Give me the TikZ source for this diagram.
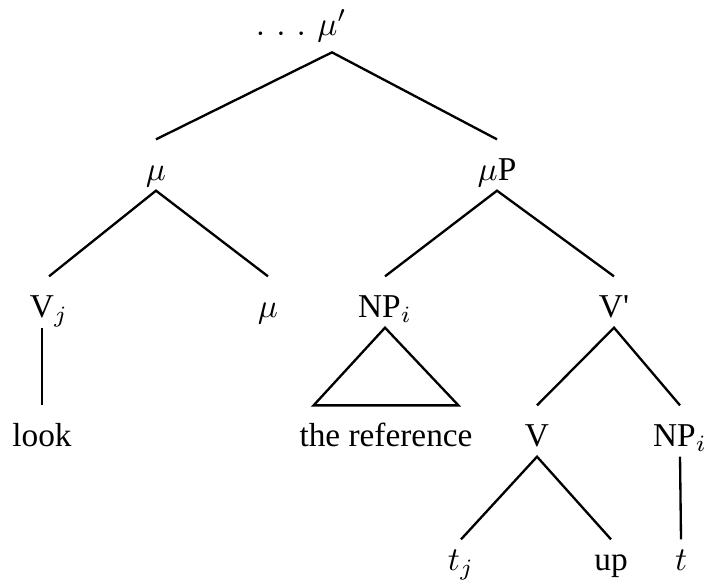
\documentclass[tikz,border=0pt]{standalone}
\usepackage{fontspec}
\setmainfont{Liberation Serif}
\usepackage{tikz}
\usetikzlibrary{calc}

\begin{document}
\begin{tikzpicture}[
  x=0.3pt, y=-0.3pt,
  cat/.style={anchor=base, inner xsep=1pt, inner ysep=3pt, text height=9pt, text depth=0pt, font=\fontsize{10}{12}\selectfont},
  leaf/.style={cat, text height=6pt},
  branch/.style={line width=0.7pt}
]
\useasboundingbox (0,0) rectangle (704,585);

\node[cat, inner ysep=5pt] (top) at (332,35) {$\mu'$};
\node[cat, anchor=base east, inner xsep=2pt] (dots) at (top.base west) {$.\,\,.\,\,.$};
\node[cat] (mu1) at (156,180) {$\mu$};
\node[cat] (muP) at (497,180) {$\mu$P};

\node[cat] (Vj) at (49,317) {V$_j$};
\node[cat] (mu2) at (268,317) {$\mu$};
\node[cat] (NP1) at (385,317) {NP$_i$};
\node[cat] (Vbar) at (614,317) {V\textquotesingle};

\node[cat] (look) at (42,446) {look};
\node[cat] (ref) at (386,446) {the reference};
\node[cat] (V) at (537,446) {V};
\node[cat] (NP2) at (680,446) {NP$_i$};

\node[leaf] (tj) at (461,570) {$t_j$};
\node[leaf] (up) at (611,570) {up};
\node[leaf] (t) at (681,570) {$t$};

\draw[branch] (mu1.north) -- (top.south) -- (muP.north);
\draw[branch] (Vj.north) -- (mu1.south) -- (mu2.north);
\draw[branch] (NP1.north) -- (muP.south) -- (Vbar.north);
\draw[branch] (Vj.south -| look.north) -- (look.north);
\draw[branch] (NP1.south) -- ($(ref.north west)!0.1!(ref.north east)$) -- ($(ref.north west)!0.9!(ref.north east)$) -- cycle;
\draw[branch] (V.north) -- (Vbar.south) -- (NP2.north);
\draw[branch] (tj.north) -- (V.south) -- (up.north);
\draw[branch] (NP2.south) -- (t.north);

\end{tikzpicture}
\end{document}
